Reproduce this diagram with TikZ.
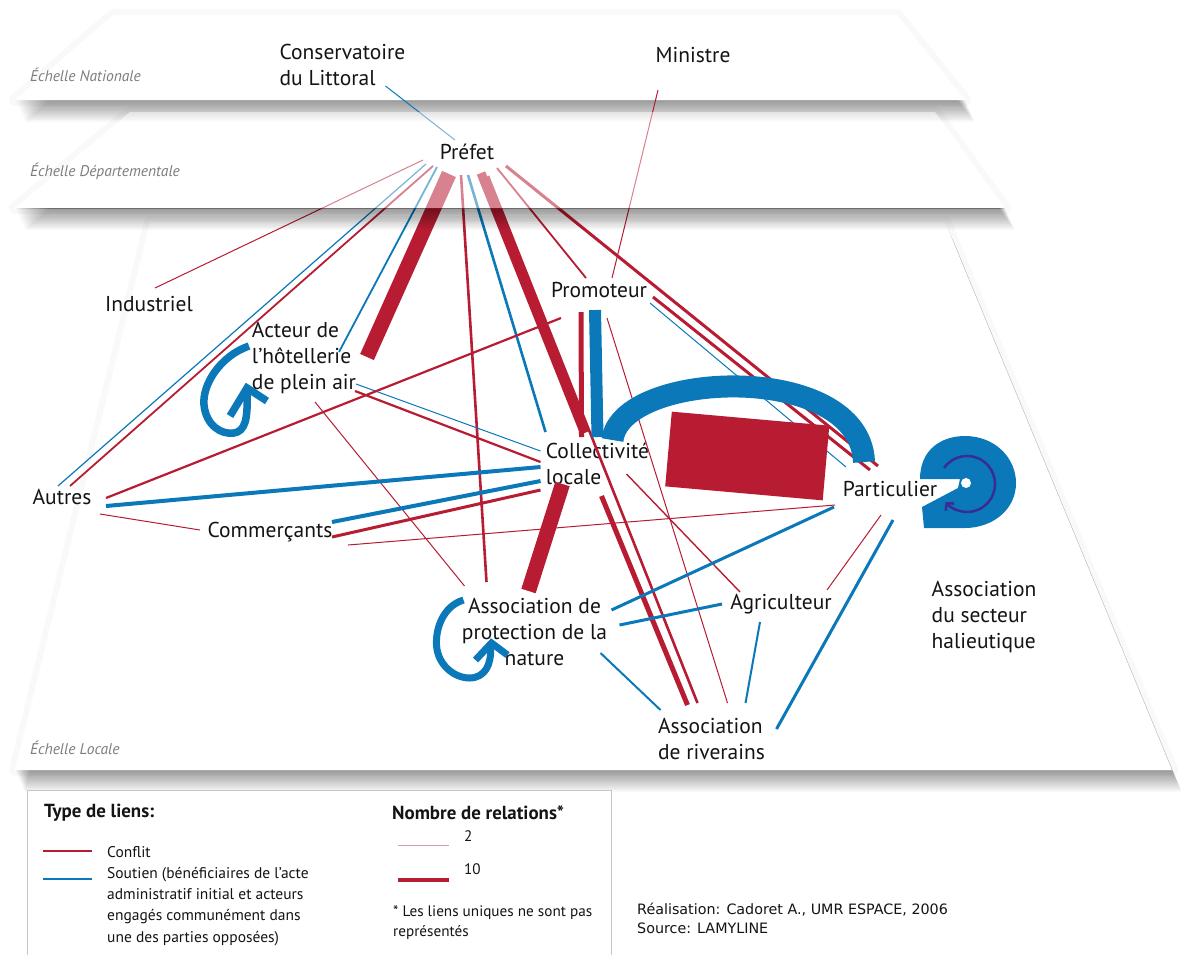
\documentclass[tikz,border=0pt]{standalone}
\usepackage{fontspec}
\setmainfont{PT Sans}
\newfontfamily\credfont{DejaVu Sans}
\usetikzlibrary{arrows.meta}
\definecolor{cred}{RGB}{184,28,51}
\definecolor{cblue}{RGB}{10,120,185}
\definecolor{cpurple}{RGB}{58,44,150}
\definecolor{txt}{RGB}{20,20,20}
\definecolor{lab}{RGB}{125,125,125}
\newcommand\planeshadow[4]{%
  \foreach \i in {1,...,12}{%
    \fill[black, opacity=0.036] ([shift={(0.8*\i,1.8*\i)}]#1) -- ([shift={(0.8*\i,1.8*\i)}]#2) -- ([shift={(0.8*\i,1.8*\i)}]#3) -- ([shift={(0.8*\i,1.8*\i)}]#4) -- cycle;}}
\begin{document}
\begin{tikzpicture}[x=1pt,y=-1pt,
  actor/.style={font=\fontsize{21.5}{26}\selectfont, text=txt, inner sep=0pt, align=center},
  actorL/.style={actor, align=left},
  rl/.style={draw=cred, line width=#1pt},
  bl/.style={draw=cblue, line width=#1pt},
  planeglow/.style={draw=black!2.5, line width=12pt, line join=round},
  scalelabel/.style={font=\fontsize{15.5}{17}\selectfont\itshape, text=lab, anchor=west, inner sep=0pt},
  leg/.style={font=\fontsize{15.5}{21.3}\selectfont, text=txt, anchor=west, inner sep=0pt, align=left},
  legbold/.style={font=\fontsize{18.9}{21}\selectfont\bfseries, text=txt, anchor=west, inner sep=0pt},
  legsmall/.style={font=\fontsize{15.2}{20}\selectfont, text=txt, anchor=west, inner sep=0pt, align=left},
  credstyle/.style={font=\credfont\fontsize{14.3}{18.5}\selectfont, text=txt, anchor=west, inner sep=0pt, align=left},
]
\useasboundingbox (0,0) rectangle (1190,954);
\fill[white] (0,0) rectangle (1190,954);

% plane corners
\coordinate (N1) at (113,15);  \coordinate (N2) at (897,15);  \coordinate (N3) at (965,100);  \coordinate (N4) at (15,100);
\coordinate (D1) at (130,112); \coordinate (D2) at (935,112); \coordinate (D3) at (1005,208); \coordinate (D4) at (15,208);
\coordinate (L1) at (150,222); \coordinate (L2) at (945,222); \coordinate (L3) at (1172,770); \coordinate (L4) at (15,770);

% planes
\draw[planeglow] (L1) -- (L2) -- (L3) -- (L4) -- cycle;
\planeshadow{L1}{L2}{L3}{L4}
\fill[white] (L1) -- (L2) -- (L3) -- (L4) -- cycle;
\draw[planeglow] (D1) -- (D2) -- (D3) -- (D4) -- cycle;
\begin{scope}
  \clip (0,0) rectangle (1190,208.5);
  \planeshadow{D1}{D2}{D3}{D4}
\end{scope}
\fill[white] (D1) -- (D2) -- (D3) -- (D4) -- cycle;
\draw[planeglow] (N1) -- (N2) -- (N3) -- (N4) -- cycle;
\planeshadow{N1}{N2}{N3}{N4}
\fill[white] (N1) -- (N2) -- (N3) -- (N4) -- cycle;
\node[scalelabel] (sN) at (30,75) {Échelle Nationale};
\node[scalelabel] (sL) at (30,748) {Échelle Locale};

% actors
\node[actorL] (cons) at (342.5,65) {Conservatoire\\du Littoral};
\node[actor] (ministre) at (693,55) {Ministre};
\node[actor] (prefet) at (467,152) {Préfet};
\node[actor] (indus) at (149,304) {Industriel};
\node[actorL] (acteur) at (304,358) {Acteur de\\l'hôtellerie\\de plein air};
\node[actor] (promo) at (599,290) {Promoteur};
\node[actorL] (coll) at (597.5,464) {Collectivité\\locale};
\node[actor] (autres) at (62,497) {Autres};
\node[actor] (comm) at (270,532) {Commerçants};
\node[actor] (partic) at (890,489) {Particulier};
\node[actor] (apn) at (534.5,632) {Association de\\protection de la\\nature};
\node[actor] (agri) at (781,604) {Agriculteur};
\node[actorL] (halieu) at (984,617) {Association\\du secteur\\halieutique};
\node[actorL] (riv) at (711.5,739) {Association\\de riverains};

% connectors
\draw[bl=1] ([shift={(-12,-12)}]prefet.center) -- ([shift={(43,21)}]cons.center);
\draw[rl=1] ([shift={(-35,35)}]ministre.center) -- ([shift={(13,-12)}]promo.center);
\draw[rl=1] ([shift={(-44,8)}]prefet.center) -- ([shift={(6,-16)}]indus.center);
\draw[bl=1.2] ([shift={(-41,12)}]prefet.center) -- ([shift={(-4,-11)}]autres.center);
\draw[rl=1.8] ([shift={(-34,14)}]prefet.center) -- ([shift={(8,-11)}]autres.center);
\draw[bl=1.8] ([shift={(-30,15)}]prefet.center) -- ([shift={(35,-6)}]acteur.center);
\draw[rl=15] ([shift={(-18,22)}]prefet.center) -- ([shift={(63,-1)}]acteur.center);
\draw[rl=2.6] ([shift={(-6,23)}]prefet.center) -- ([shift={(-48,-50)}]apn.center);
\draw[bl=2.6] ([shift={(1,23)}]prefet.center) -- ([shift={(-52,-32)}]coll.center);
\draw[rl=9] ([shift={(14,21)}]prefet.center) -- ([shift={(-13,-31)}]coll.center);
\draw[rl=2.6] ([shift={(21,24)}]prefet.center) -- ([shift={(-14,-36)}]riv.center);
\draw[rl=1.8] ([shift={(30,16)}]prefet.center) -- ([shift={(-13,-12)}]promo.center);
\draw[rl=3] ([shift={(39,14)}]prefet.center) -- ([shift={(-12,-23)}]partic.center);
\draw[rl=2.2] ([shift={(51,33)}]acteur.center) -- ([shift={(-57,-2)}]coll.center);
\draw[bl=1] ([shift={(52,26)}]acteur.center) -- ([shift={(-57,-13)}]coll.center);
\draw[rl=1] ([shift={(11,44)}]acteur.center) -- ([shift={(-70,-46)}]apn.center);
\draw[bl=4] ([shift={(44,9)}]autres.center) -- ([shift={(-57,3)}]coll.center);
\draw[rl=2.2] ([shift={(44,1)}]autres.center) -- ([shift={(-38,28)}]promo.center);
\draw[rl=1] ([shift={(38,17)}]autres.center) -- ([shift={(-70,-2)}]comm.center);
\draw[bl=4] ([shift={(62,-10)}]comm.center) -- ([shift={(-57,17)}]coll.center);
\draw[rl=3] ([shift={(62,5)}]comm.center) -- ([shift={(-57,26)}]coll.center);
\draw[rl=1] ([shift={(78,13)}]comm.center) -- ([shift={(-55,16)}]partic.center);
\draw[rl=5] ([shift={(-18,22)}]promo.center) -- ([shift={(-16,-27)}]coll.center);
\draw[bl=12] ([shift={(-4,20)}]promo.center) -- ([shift={(0,-27)}]coll.center);
\draw[rl=3] ([shift={(54,7)}]promo.center) -- ([shift={(-20,-19)}]partic.center);
\draw[bl=1] ([shift={(51,13)}]promo.center) -- ([shift={(-44,-22)}]partic.center);
\draw[rl=1] ([shift={(8,28)}]promo.center) -- ([shift={(16,-36)}]riv.center);
\draw[bl=22] ([shift={(15,-24)}]coll.center) .. controls ([shift={(23,-94)}]coll.center) and ([shift={(-30,-129)}]partic.center) .. ([shift={(-26,-27)}]partic.center);
\draw[rl=75] ([shift={(71,-15)}]coll.center) -- ([shift={(-64,-26)}]partic.center);
\draw[rl=15] ([shift={(-35,20)}]coll.center) -- ([shift={(-6,-41)}]apn.center);
\draw[rl=5] ([shift={(4,32)}]coll.center) -- ([shift={(-24,-34)}]riv.center);
\draw[rl=1.4] ([shift={(29,10)}]coll.center) -- ([shift={(-41,-12)}]agri.center);
\draw[bl=3] ([shift={(-56,18)}]partic.center) -- ([shift={(77,-22)}]apn.center);
\draw[rl=1] ([shift={(-9,26)}]partic.center) -- ([shift={(46,-14)}]agri.center);
\draw[bl=3] ([shift={(3,31)}]partic.center) -- ([shift={(65,-10)}]riv.center);
\draw[bl=3] ([shift={(85,-7)}]apn.center) -- ([shift={(-59,0)}]agri.center);
\draw[bl=2] ([shift={(66,21)}]apn.center) -- ([shift={(-51,-29)}]riv.center);
\draw[bl=2] ([shift={(-21,18)}]agri.center) -- ([shift={(34,-36)}]riv.center);

% self loops
\begin{scope}[shift={(acteur.center)}]
  \draw[bl=7.5] (-55,-12) .. controls (-84,-2) and (-102,27) .. (-100,47)
     .. controls (-98,67) and (-83,77) .. (-70,75)
     .. controls (-59,73) and (-56,62) .. (-57,34);
  \draw[bl=7.5, line join=miter] (-74,58) -- (-57,30) -- (-37,43);
\end{scope}
\begin{scope}[shift={(apn.center)}]
  \draw[bl=7] (-71,-32) .. controls (-91,-26) and (-99,-4) .. (-98,13)
     .. controls (-97,33) and (-80,46) .. (-65,46)
     .. controls (-50,46) and (-43,33) .. (-44,16);
  \draw[bl=7, line join=miter] (-59,28) -- (-43,11) -- (-27,23);
\end{scope}
\begin{scope}[shift={(partic.center)}]
  \fill[cblue] (30,-10) .. controls (30,-40) and (52,-53) .. (75,-53)
     .. controls (105,-53) and (126,-31) .. (126,-6)
     .. controls (126,21) and (102,39) .. (75,39)
     -- (34,39) -- (32,18) -- (68,-1) -- (70,-10) -- cycle;
  \fill[white] (76,-6) circle[radius=5];
  \draw[draw=cpurple, line width=2.5pt, -{Straight Barb[length=5pt,width=11pt]}]
     (54.1,-21.1) arc[start angle=215, end angle=500, radius=28];
\end{scope}

% fading of the departmental plane over the links (Préfet kept clear), and its shadow
\fill[white, opacity=0.45, even odd rule] (D1) -- (D2) -- (D3) -- (D4) -- cycle
   ([shift={(-3,-3)}]prefet.north west) rectangle ([shift={(3,3)}]prefet.south east);
\begin{scope}
  \clip (0,208.5) rectangle (1190,320);
  \planeshadow{D1}{D2}{D3}{D4}
\end{scope}
\node[scalelabel] (sD) at (30,171) {Échelle Départementale};

% legend
\draw[black!22, line width=0.8pt, fill=white] (27,960) -- (27,790) -- (611,790) -- (611,960);
\node[legbold] (lt1) at (44,813) {Type de liens:};
\draw[rl=1.6] (43,851) -- (92,851);
\node[leg] (lc) at (107,852) {Conflit};
\draw[bl=2.4] (43,879) -- (92,879);
\node[leg, anchor=north west] (ls) at (107,867) {Soutien (bénéficiaires de l'acte\\administratif initial et acteurs\\engagés communément dans\\une des parties opposées)};
\node[legbold] (lt2) at (392,813) {Nombre de relations*};
\draw[draw=cred!45, line width=1pt] (398,845) -- (449,845);
\node[legsmall] (l2) at (464,836) {2};
\draw[rl=4] (398,880) -- (449,880);
\node[legsmall] (l10) at (464,869) {10};
\node[legsmall, anchor=north west] (lnote) at (393,905) {* Les liens uniques ne sont pas\\représentés};
\node[credstyle, anchor=north west] (credits) at (637,903) {Réalisation: Cadoret A., UMR ESPACE, 2006\\Source: LAMYLINE};
\end{tikzpicture}
\end{document}
